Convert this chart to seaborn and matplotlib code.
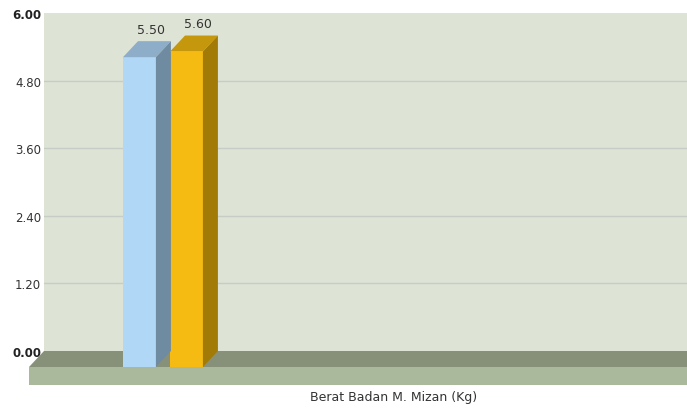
import numpy as np
import pandas as pd
import seaborn as sns
import matplotlib.pyplot as plt
from matplotlib.patches import Polygon

categories = ["Berat Badan M. Mizan (Kg)"]
series = ["Seri 1", "Seri 2"]
values = [5.50, 5.60]
yticks = [0.0, 1.2, 2.4, 3.6, 4.8, 6.0]

front_colors = ["#b1d7f6", "#f5bb12"]
side_colors = ["#6f8ba1", "#a17b06"]
top_colors = ["#8dadc9", "#c5970c"]

df = pd.DataFrame({"kategori": categories * len(series), "seri": series, "nilai": values})

fig = plt.figure(figsize=(6.87, 4.10), dpi=100)
ax = fig.add_axes([44 / 687, 58 / 410, 643 / 687, 338 / 410])
sns.barplot(df, x="kategori", y="nilai", hue="seri", palette=front_colors, saturation=1,
            gap=0.3, legend=False, ax=ax, zorder=4, errorbar=None)

ax.set_xlim(-1.140, 4.332)
ax.set_ylim(0, 6)
ax.set_facecolor("#dde3d5")
ax.set_yticks(yticks)
ax.set_yticklabels(["%.2f" % t for t in yticks], fontsize=8.5, color="#333333")
for lab in (ax.get_yticklabels()[0], ax.get_yticklabels()[-1]):
    lab.set_fontweight("bold")
    lab.set_color("#222222")
ax.tick_params(axis="y", length=0, pad=2)
ax.set_xticks([])
ax.set_xlabel("")
ax.set_ylabel("")
for t in yticks[1:-1]:
    ax.axhline(t, color="#c6ccc6", lw=1, zorder=1)
for s in ax.spines.values():
    s.set_visible(False)

# 3d depth in data units
dx = 15 / 117.5
dy = 16 / 56.33
thick = 18 / 56.33

# floor
x0, x1 = ax.get_xlim()
ax.add_patch(Polygon([(x0, 0), (x1 + 1, 0), (x1 + 1 - dx, -dy), (x0 - dx, -dy)],
                     closed=True, fc="#87917a", ec="none", clip_on=False, zorder=2))
ax.add_patch(Polygon([(x0 - dx, -dy), (x1 + 1, -dy), (x1 + 1, -dy - thick), (x0 - dx, -dy - thick)],
                     closed=True, fc="#aab99b", ec="none", clip_on=False, zorder=2))

for i, p in enumerate(ax.patches[:len(values)]):
    x = p.get_x()
    w = p.get_width()
    v = p.get_height()
    p.set_x(x - dx)
    p.set_y(-dy)
    p.set_clip_on(False)
    p.set_edgecolor("none")
    ax.add_patch(Polygon([(x - dx, v - dy), (x - dx + w, v - dy), (x + w, v), (x, v)],
                         closed=True, fc=top_colors[i], ec="none", clip_on=False, zorder=4))
    ax.add_patch(Polygon([(x + w - dx, -dy), (x + w, 0), (x + w, v), (x + w - dx, v - dy)],
                         closed=True, fc=side_colors[i], ec="none", clip_on=False, zorder=4))
    ax.text(x + w / 2 - dx / 4, v + 0.1, "%.2f" % values[i], ha="center", va="bottom",
            fontsize=9, color="#333333", zorder=5)

fig.text(394 / 687, 1 - 398 / 410, categories[0], ha="center", va="center",
         fontsize=9, color="#333333")

fig.savefig("out.png", dpi=100)
